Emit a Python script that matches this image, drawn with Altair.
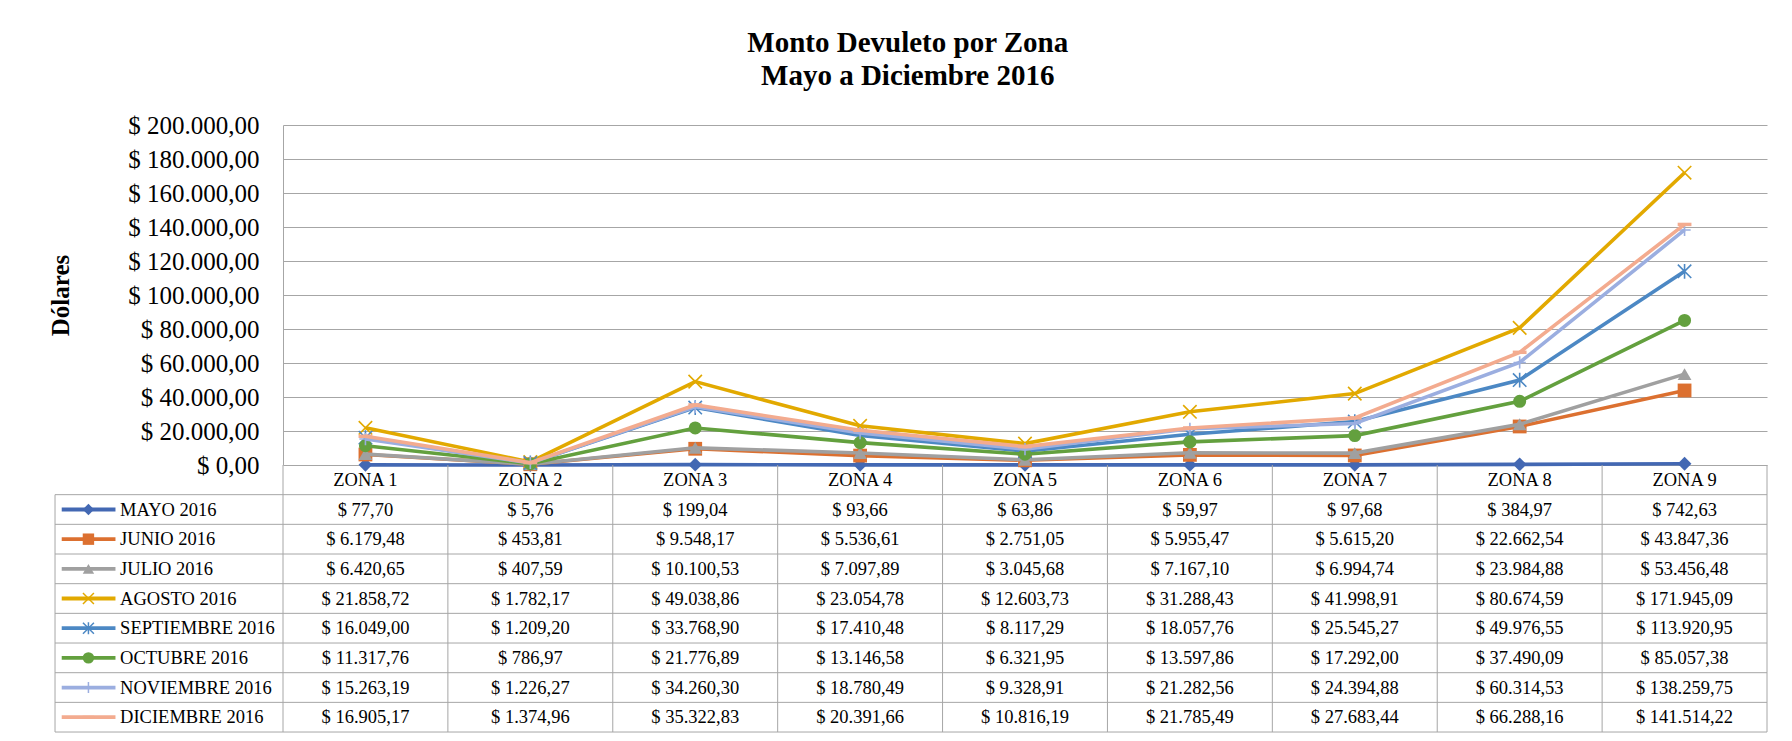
import altair as alt
import pandas as pd

# ---------------- data ----------------
ZONES = ["ZONA 1", "ZONA 2", "ZONA 3", "ZONA 4", "ZONA 5", "ZONA 6", "ZONA 7", "ZONA 8", "ZONA 9"]
SERIES = ["MAYO 2016", "JUNIO 2016", "JULIO 2016", "AGOSTO 2016", "SEPTIEMBRE 2016",
          "OCTUBRE 2016", "NOVIEMBRE 2016", "DICIEMBRE 2016"]
MAYO = [77.70, 5.76, 199.04, 93.66, 63.86, 59.97, 97.68, 384.97, 742.63]
JUNIO = [6179.48, 453.81, 9548.17, 5536.61, 2751.05, 5955.47, 5615.20, 22662.54, 43847.36]
JULIO = [6420.65, 407.59, 10100.53, 7097.89, 3045.68, 7167.10, 6994.74, 23984.88, 53456.48]
AGOSTO = [21858.72, 1782.17, 49038.86, 23054.78, 12603.73, 31288.43, 41998.91, 80674.59, 171945.09]
SEPTIEMBRE = [16049.00, 1209.20, 33768.90, 17410.48, 8117.29, 18057.76, 25545.27, 49976.55, 113920.95]
OCTUBRE = [11317.76, 786.97, 21776.89, 13146.58, 6321.95, 13597.86, 17292.00, 37490.09, 85057.38]
NOVIEMBRE = [15263.19, 1226.27, 34260.30, 18780.49, 9328.91, 21282.56, 24394.88, 60314.53, 138259.75]
DICIEMBRE = [16905.17, 1374.96, 35322.83, 20391.66, 10816.19, 21785.49, 27683.44, 66288.16, 141514.22]
VALUES = [MAYO, JUNIO, JULIO, AGOSTO, SEPTIEMBRE, OCTUBRE, NOVIEMBRE, DICIEMBRE]
Y_TICKS = [0, 20000, 40000, 60000, 80000, 100000, 120000, 140000, 160000, 180000, 200000]
TITLE = ["Monto Devuleto por Zona", "Mayo a Diciembre 2016"]
Y_TITLE = "Dólares"

# ---------------- styles ----------------
COLORS = ["#4368B3", "#DC7030", "#A0A0A0", "#E2A900", "#4C88C4", "#63A03E", "#9BAEE0", "#F3AB8F"]
X_PATH = "M-1,-1L1,1M-1,1L1,-1"
AST_PATH = "M-1,-1L1,1M-1,1L1,-1M0,-1.1L0,1.1"
PLUS_PATH = "M-1,0L1,0M0,-1L0,1"
DASH_PATH = "M-1,-0.25L1,-0.25L1,0.25L-1,0.25Z"
SHAPES = ["diamond", "square", "triangle-up", X_PATH, AST_PATH, "circle", PLUS_PATH, DASH_PATH]
FILLED = [True, True, True, False, False, True, False, True]
SIZES = [190, 190, 190, 180, 180, 170, 150, 190]
GRID = "#A6A6A6"
FONT = "Liberation Serif"
W = 1484
H = 340
ROW_H = 29.67
NCOL = len(ZONES)
NROW = len(SERIES) + 1
# legend column layout (in column units, left of the zone columns)
LEG_LEFT = -1.3826
LEG_L0 = -1.342
LEG_L1 = -1.016
LEG_M = -1.180
LEG_T = -0.988


def money(v):
    s = f"{v:,.2f}".replace(",", "X").replace(".", ",").replace("X", ".")
    return "$ " + s


rows = []
for k, (s, vals) in enumerate(zip(SERIES, VALUES)):
    for i, (z, v) in enumerate(zip(ZONES, vals)):
        rows.append({"series": s, "zone": z, "zi": i, "xc": i + 0.5, "value": v,
                     "label": money(v), "yc": k + 1.5})
df = pd.DataFrame(rows)

xs = alt.Scale(domain=[0, NCOL], nice=False, zero=False)
ys = alt.Scale(domain=[0, 200000], nice=False)

yaxis = alt.Axis(
    values=Y_TICKS,
    labelExpr="'$ ' + (datum.value == 0 ? '0' : format(datum.value / 1000, 'd') + '.000') + ',00'",
    labelFont=FONT, labelFontSize=25, labelColor="black", labelPadding=24,
    ticks=False, domainColor=GRID, domainWidth=1, grid=True, gridColor=GRID, gridWidth=1,
    title=Y_TITLE, titleFont=FONT, titleFontSize=25, titleFontWeight="bold", titleColor="black",
    titleX=-223, titleY=H / 2, titleAngle=270, titleAlign="center", titleBaseline="middle",
)

layers = []
for k, s in enumerate(SERIES):
    base = alt.Chart(df).transform_filter(alt.datum.series == s)
    enc = dict(x=alt.X("xc:Q", scale=xs, axis=None), y=alt.Y("value:Q", scale=ys, axis=yaxis))
    layers.append(base.mark_line(color=COLORS[k], strokeWidth=3.6).encode(order="zi:Q", **enc))
    if FILLED[k]:
        pm = base.mark_point(shape=SHAPES[k], filled=True, color=COLORS[k], size=SIZES[k], opacity=1)
    else:
        pm = base.mark_point(shape=SHAPES[k], filled=False, color=COLORS[k], size=SIZES[k],
                             strokeWidth=1.6, opacity=1)
    layers.append(pm.encode(**enc))
top = alt.layer(*layers).properties(width=W, height=H)

# ---------------- data table ----------------
xt = alt.Scale(domain=[0, NCOL], nice=False, zero=False)
yt = alt.Scale(domain=[0, NROW], nice=False, zero=False, reverse=True)

seg = []
for r in range(1, NROW + 1):
    seg.append({"x0": LEG_LEFT, "x1": NCOL, "y0": r, "y1": r})
for c in range(0, NCOL + 1):
    seg.append({"x0": c, "x1": c, "y0": 0, "y1": NROW})
seg.append({"x0": LEG_LEFT, "x1": LEG_LEFT, "y0": 1, "y1": NROW})
segdf = pd.DataFrame(seg)

grid = alt.Chart(segdf).mark_rule(color=GRID, strokeWidth=1).encode(
    x=alt.X("x0:Q", scale=xt, axis=None), x2="x1:Q",
    y=alt.Y("y0:Q", scale=yt, axis=None), y2="y1:Q")

zdf = pd.DataFrame({"zone": ZONES, "xc": [i + 0.5 for i in range(NCOL)]})
header = alt.Chart(zdf).mark_text(font=FONT, fontSize=18.5, color="black", align="center",
                                  baseline="middle").encode(
    x=alt.X("xc:Q", scale=xt, axis=None), y=alt.YDatum(0.5, scale=yt, axis=None, type="quantitative"),
    text="zone:N")

cells = alt.Chart(df).mark_text(font=FONT, fontSize=18.5, color="black", align="center",
                                baseline="middle").encode(
    x=alt.X("xc:Q", scale=xt, axis=None), y=alt.Y("yc:Q", scale=yt, axis=None), text="label:N")

sdf = pd.DataFrame({"series": SERIES, "yc": [k + 1.5 for k in range(len(SERIES))]})
cscale = alt.Scale(domain=SERIES, range=COLORS)
shscale = alt.Scale(domain=SERIES, range=SHAPES)
leg_text = alt.Chart(sdf).mark_text(font=FONT, fontSize=18.5, color="black", align="left",
                                    baseline="middle").encode(
    x=alt.XDatum(LEG_T, scale=xt, axis=None, type="quantitative"),
    y=alt.Y("yc:Q", scale=yt, axis=None), text="series:N")
leg_line = alt.Chart(sdf).mark_rule(strokeWidth=3.8).encode(
    x=alt.XDatum(LEG_L0, scale=xt, axis=None, type="quantitative"), x2=alt.X2Datum(LEG_L1),
    y=alt.Y("yc:Q", scale=yt, axis=None),
    color=alt.Color("series:N", scale=cscale, legend=None))
filled_names = [s for s, f in zip(SERIES, FILLED) if f]
stroked_names = [s for s, f in zip(SERIES, FILLED) if not f]
leg_mk_f = alt.Chart(sdf).transform_filter(alt.FieldOneOfPredicate(field="series", oneOf=filled_names)).mark_point(
    filled=True, opacity=1, size=130).encode(
    x=alt.XDatum(LEG_M, scale=xt, axis=None, type="quantitative"),
    y=alt.Y("yc:Q", scale=yt, axis=None),
    color=alt.Color("series:N", scale=cscale, legend=None),
    shape=alt.Shape("series:N", scale=shscale, legend=None))
leg_mk_s = alt.Chart(sdf).transform_filter(alt.FieldOneOfPredicate(field="series", oneOf=stroked_names)).mark_point(
    filled=False, opacity=1, size=120, strokeWidth=1.5).encode(
    x=alt.XDatum(LEG_M, scale=xt, axis=None, type="quantitative"),
    y=alt.Y("yc:Q", scale=yt, axis=None),
    color=alt.Color("series:N", scale=cscale, legend=None),
    shape=alt.Shape("series:N", scale=shscale, legend=None))

table = alt.layer(grid, header, cells, leg_line, leg_mk_f, leg_mk_s, leg_text).properties(
    width=W, height=ROW_H * NROW)

chart = alt.vconcat(top, table, spacing=0, bounds="flush").properties(
    title=alt.TitleParams(TITLE, font=FONT, fontSize=29, fontWeight="bold", color="black",
                          anchor="middle", frame="bounds", lineHeight=33, offset=22),
    padding={"left": 40, "top": 21, "right": 5, "bottom": 5},
).configure(font=FONT).configure_view(strokeWidth=0)

chart.save("out.html", embed_options={"renderer": "svg", "actions": False})
